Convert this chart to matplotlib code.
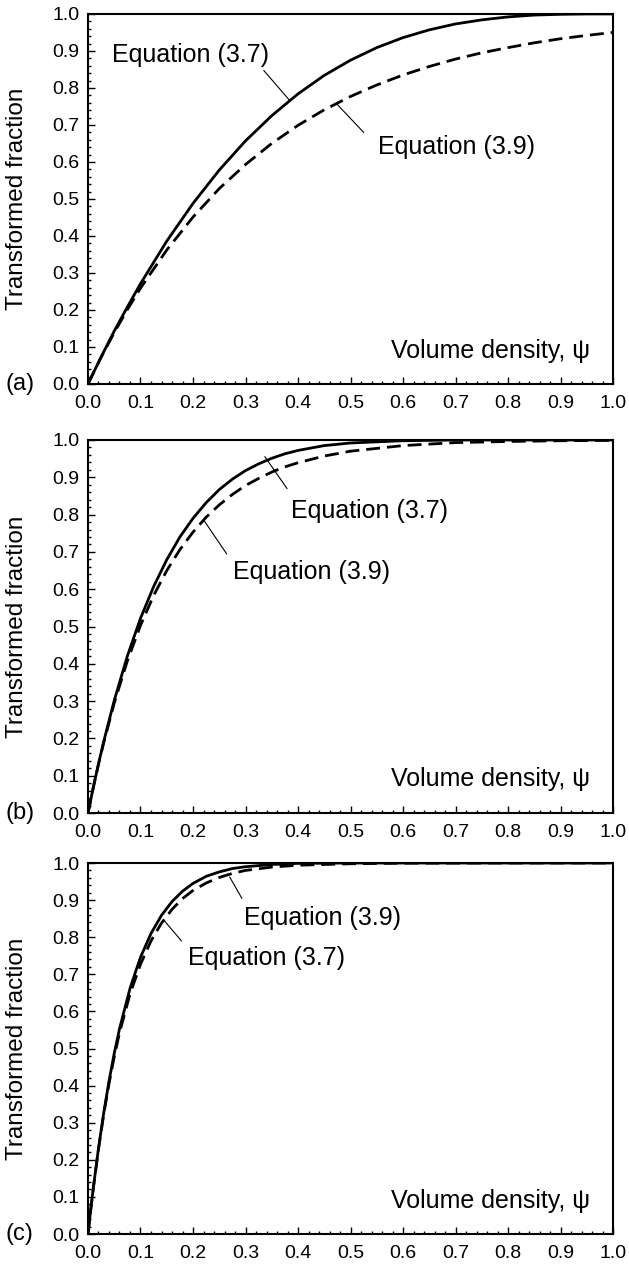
import numpy as np
import matplotlib
matplotlib.use("Agg")
import matplotlib.pyplot as plt
from matplotlib.ticker import MultipleLocator, FormatStrFormatter

plt.rcParams['font.family'] = ['Liberation Sans', 'DejaVu Sans']

# ---------------- data ----------------
# panel (a)
psi_a = [0, 0.025, 0.05, 0.075, 0.1, 0.15, 0.2, 0.25, 0.3, 0.35, 0.4, 0.45, 0.5,
         0.55, 0.6, 0.65, 0.7, 0.75, 0.8, 0.85, 0.9, 0.95, 1.0]
eq37_a = [0, 0.073, 0.143, 0.208, 0.271, 0.386, 0.488, 0.578, 0.657, 0.725, 0.784,
          0.834, 0.875, 0.909, 0.936, 0.957, 0.973, 0.984, 0.992, 0.997, 0.999, 1.0, 1.0]
eq39_a = [0, 0.072, 0.139, 0.201, 0.259, 0.362, 0.451, 0.528, 0.593, 0.650, 0.699,
          0.741, 0.777, 0.808, 0.835, 0.858, 0.878, 0.895, 0.909, 0.922, 0.933, 0.942, 0.950]

# panel (b)
psi_b = [0, 0.01, 0.02, 0.03, 0.05, 0.075, 0.1, 0.125, 0.15, 0.175, 0.2, 0.225, 0.25,
         0.275, 0.3, 0.325, 0.35, 0.375, 0.4, 0.45, 0.5, 0.6, 0.7, 0.8, 0.9, 1.0]
eq37_b = [0, 0.068, 0.132, 0.192, 0.302, 0.421, 0.522, 0.607, 0.679, 0.740, 0.790,
          0.832, 0.867, 0.895, 0.918, 0.936, 0.951, 0.963, 0.972, 0.985, 0.992,
          0.998, 1.0, 1.0, 1.0, 1.0]
eq39_b = [0, 0.068, 0.131, 0.189, 0.295, 0.408, 0.503, 0.583, 0.650, 0.706, 0.753,
          0.793, 0.826, 0.854, 0.878, 0.897, 0.914, 0.928, 0.939, 0.957, 0.970,
          0.985, 0.993, 0.996, 0.998, 0.999]

# panel (c)
psi_c = [0, 0.005, 0.01, 0.02, 0.03, 0.04, 0.05, 0.06, 0.08, 0.1, 0.12, 0.14, 0.16,
         0.18, 0.2, 0.225, 0.25, 0.275, 0.3, 0.35, 0.4, 0.5, 0.6, 0.8, 1.0]
eq37_c = [0, 0.063, 0.123, 0.231, 0.327, 0.412, 0.487, 0.553, 0.662, 0.746, 0.810,
          0.859, 0.896, 0.924, 0.945, 0.964, 0.976, 0.985, 0.990, 0.996, 0.999,
          1.0, 1.0, 1.0, 1.0]
eq39_c = [0, 0.063, 0.122, 0.229, 0.323, 0.405, 0.478, 0.542, 0.647, 0.727, 0.790,
          0.838, 0.875, 0.904, 0.926, 0.946, 0.961, 0.972, 0.980, 0.989, 0.994,
          0.998, 0.9995, 1.0, 1.0]

# labels: (text, text x, text y, line start (on curve), line end)
notes_a = [("Equation (3.7)", 0.046, 0.889, (0.383, 0.768), (0.335, 0.847)),
           ("Equation (3.9)", 0.552, 0.640, (0.475, 0.755), (0.525, 0.680))]
notes_b = [("Equation (3.7)", 0.387, 0.809, (0.337, 0.955), (0.379, 0.870)),
           ("Equation (3.9)", 0.276, 0.645, (0.222, 0.782), (0.264, 0.695))]
notes_c = [("Equation (3.9)", 0.298, 0.852, (0.270, 0.962), (0.293, 0.905)),
           ("Equation (3.7)", 0.190, 0.745, (0.145, 0.845), (0.178, 0.790))]

panels = [
    ("(a)", psi_a, eq37_a, eq39_a, notes_a, [0.1399, 0.6972, 0.8347, 0.2918]),
    ("(b)", psi_b, eq37_b, eq39_b, notes_b, [0.1399, 0.3588, 0.8347, 0.2942]),
    ("(c)", psi_c, eq37_c, eq39_c, notes_c, [0.1399, 0.0268, 0.8347, 0.2926]),
]

fig = plt.figure(figsize=(6.29, 12.68), dpi=100)

for tag, psi, s37, s39, notes, rect in panels:
    ax = fig.add_axes(rect)
    ax.plot(psi, s37, color='black', lw=2.0, solid_capstyle='butt')
    ax.plot(psi, s39, color='black', lw=2.0, dashes=(5, 2.5))

    for text, tx, ty, p0, p1 in notes:
        ax.plot([p0[0], p1[0]], [p0[1], p1[1]], color='black', lw=0.8)
        ax.text(tx, ty, text, fontsize=18, va='center', ha='left')

    ax.text(0.956, 0.09, "Volume density, \u03c8", fontsize=18, va='center', ha='right')
    ax.text(-0.158, 0.0, tag, fontsize=17, va='center', ha='left',
            transform=ax.get_yaxis_transform())
    ax.text(-0.135, 0.5, "Transformed fraction", fontsize=17.5, rotation=90,
            va='center', ha='center', transform=ax.transAxes)

    ax.set_xlim(0, 1)
    ax.set_ylim(0, 1)
    ax.xaxis.set_major_locator(MultipleLocator(0.1))
    ax.xaxis.set_minor_locator(MultipleLocator(0.02))
    ax.yaxis.set_major_locator(MultipleLocator(0.1))
    ax.yaxis.set_minor_locator(MultipleLocator(0.02))
    ax.xaxis.set_major_formatter(FormatStrFormatter('%.1f'))
    ax.yaxis.set_major_formatter(FormatStrFormatter('%.1f'))
    ax.tick_params(which='both', direction='in', top=False, right=False,
                   width=1.0, labelsize=14)
    ax.tick_params(which='major', length=5)
    ax.tick_params(which='minor', length=2.5)
    ax.tick_params(axis='x', pad=8)
    ax.tick_params(axis='y', pad=6)
    for sp in ax.spines.values():
        sp.set_linewidth(1.5)

fig.savefig("out.png", dpi=100, facecolor='white')
